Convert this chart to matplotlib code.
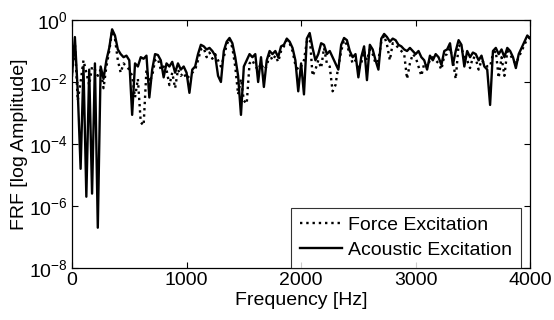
import numpy as np
import matplotlib
matplotlib.use("Agg")
import matplotlib.pyplot as plt
from matplotlib.ticker import FixedLocator, NullLocator

plt.rcParams['font.family'] = ['Liberation Sans', 'DejaVu Sans']
plt.rcParams['mathtext.fontset'] = 'custom'
plt.rcParams['mathtext.rm'] = 'Liberation Sans'
plt.rcParams['mathtext.it'] = 'Liberation Sans'

# frequency bins (Hz), 25 Hz resolution
freq = np.arange(0, 4001, 25)

# log10 of FRF amplitude
acoustic_exp = [
    -1.8, -0.55, -2.3, -4.8, -1.5, -5.7, -1.6, -5.6, -1.4, -6.7,
    -1.5, -1.9, -1.3, -0.9, -0.3, -0.5, -0.95, -1.1, -1.2, -1.15,
    -1.3, -3.06, -1.4, -1.5, -1.2, -1.25, -1.15, -2.5, -1.6, -1.1,
    -1.13, -1.3, -1.85, -1.4, -1.5, -1.35, -1.7, -1.4, -1.6, -1.5,
    -1.7, -2.35, -1.6, -1.5, -1.1, -0.8, -0.85, -0.95, -0.9, -1.0,
    -1.15, -1.8, -2.0, -1.0, -0.7, -0.58, -0.75, -1.2, -1.8, -3.06,
    -1.5, -1.3, -1.1, -1.2, -1.1, -2.0, -1.2, -2.16, -1.3, -1.0,
    -1.1, -1.0, -1.2, -0.85, -0.8, -0.6, -0.7, -0.9, -1.3, -2.3,
    -1.4, -2.4, -0.6, -0.42, -0.9, -1.3, -1.1, -0.75, -0.8, -1.1,
    -1.0, -1.2, -1.4, -1.6, -0.8, -0.58, -0.65, -1.0, -1.2, -1.1,
    -1.85, -1.2, -0.85, -1.94, -0.8, -0.95, -1.3, -1.6, -0.6, -0.45,
    -0.55, -0.7, -0.6, -0.65, -0.8, -0.85, -0.95, -1.0, -0.9, -1.0,
    -1.1, -1.0, -1.2, -1.3, -1.6, -1.15, -1.3, -1.1, -1.2, -1.45,
    -1.0, -0.95, -0.75, -1.45, -1.0, -0.65, -0.8, -1.5, -1.0, -1.2,
    -1.05, -1.1, -1.3, -1.15, -1.5, -1.6, -2.74, -1.0, -0.9, -1.1,
    -0.95, -1.2, -0.9, -1.0, -1.2, -1.55, -1.1, -0.9, -0.7, -0.5,
    -0.6,
]

force_exp = [
    -1.7, -0.75, -2.6, -2.0, -1.3, -1.7, -2.1, -1.5, -1.6, -1.8,
    -1.6, -2.2, -1.5, -1.0, -0.35, -0.6, -1.3, -1.7, -1.4, -1.5,
    -1.6, -1.8, -2.5, -1.9, -3.3, -3.4, -1.6, -2.0, -1.8, -1.3,
    -1.25, -1.6, -1.5, -1.6, -2.1, -1.7, -2.2, -1.6, -1.8, -1.7,
    -1.9, -1.8, -1.7, -1.6, -1.3, -0.95, -0.9, -1.2, -1.05, -1.25,
    -1.1, -1.3, -1.5, -1.2, -0.8, -0.6, -0.9, -1.5, -2.4, -1.9,
    -2.6, -2.7, -1.4, -1.3, -1.5, -1.6, -1.4, -1.6, -1.5, -1.1,
    -1.3, -1.15, -1.35, -1.0, -0.85, -0.65, -0.75, -1.0, -1.45, -1.6,
    -1.5, -1.3, -0.7, -0.5, -1.8, -1.6, -1.3, -1.55, -0.9, -1.4,
    -1.5, -2.3, -2.1, -1.5, -1.0, -0.65, -0.8, -1.1, -1.4, -1.3,
    -1.6, -1.4, -1.0, -1.3, -0.95, -1.1, -1.4, -1.3, -0.7, -0.5,
    -0.8, -1.3, -0.75, -0.8, -0.9, -1.0, -1.1, -1.9, -1.4, -1.1,
    -1.2, -1.5, -1.8, -1.4, -1.5, -1.3, -1.2, -1.3, -1.4, -1.6,
    -1.15, -1.1, -0.9, -1.3, -1.9, -0.8, -0.9, -1.2, -1.3, -1.55,
    -1.2, -1.25, -1.6, -1.3, -1.4, -1.5, -1.5, -1.1, -1.0, -1.87,
    -1.2, -1.8, -1.0, -1.1, -1.3, -1.4, -1.2, -1.0, -0.8, -0.6,
    -0.55,
]

acoustic = 10.0 ** np.array(acoustic_exp)
force = 10.0 ** np.array(force_exp)

fig = plt.figure(figsize=(5.54, 3.2), dpi=100)
ax = fig.add_axes([0.13, 0.1625, 0.827, 0.775])

ax.semilogy(freq, force, color='black', ls=':', lw=1.7, label='Force Excitation')
ax.semilogy(freq, acoustic, color='black', ls='-', lw=1.7, label='Acoustic Excitation')

ax.set_xlim(0, 4000)
ax.set_ylim(1e-8, 1e0)
ax.set_xticks([0, 1000, 2000, 3000, 4000])
ax.yaxis.set_major_locator(FixedLocator([1e-8, 1e-6, 1e-4, 1e-2, 1e0]))
ax.yaxis.set_minor_locator(NullLocator())
ax.tick_params(direction='in', top=True, right=True, labelsize=14, length=4, pad=3)
for s in ax.spines.values():
    s.set_linewidth(0.9)

ax.set_xlabel('Frequency [Hz]', fontsize=14, labelpad=2)
ax.set_ylabel('FRF [log Amplitude]', fontsize=14, labelpad=1)

leg = ax.legend(loc='lower right', fontsize=14, frameon=True, fancybox=False,
                bbox_to_anchor=(0.98, 0.0), borderaxespad=0.0,
                handlelength=2.2, handletextpad=0.3,
                borderpad=0.45, labelspacing=0.4)
leg.get_frame().set_edgecolor('black')
leg.get_frame().set_linewidth(0.8)

fig.savefig('out.png', dpi=100)
